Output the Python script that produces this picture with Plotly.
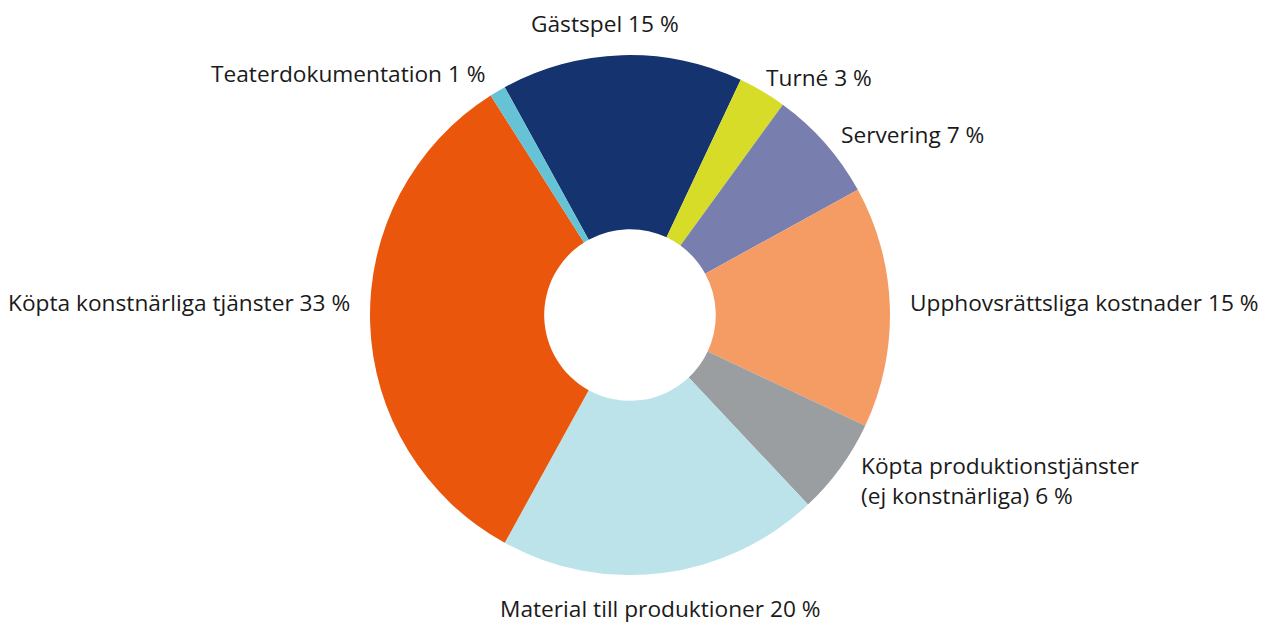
import math
import plotly.graph_objects as go

labels = ["Gästspel", "Turné", "Servering", "Upphovsrättsliga kostnader",
          "Köpta produktionstjänster<br>(ej konstnärliga)", "Material till produktioner",
          "Köpta konstnärliga tjänster", "Teaterdokumentation"]
values = [15, 3, 7, 15, 6, 20, 33, 1]
colors = ["#14336f", "#d6dc28", "#787fae", "#f59c65", "#9a9ea1", "#bce2ea", "#e9560c", "#66c3d6"]

texts = [f"{l} {v} %" for l, v in zip(labels, values)]

W, H = 1272, 623
M = dict(l=0, r=28, t=47, b=56)
PW = W - M["l"] - M["r"]
PH = H - M["t"] - M["b"]
R = min(PW, PH) / 2
ROT = -28.8
FS = 22.7

# small label nudges (pixels) to follow the reference's label layout
nudge = {0: (-16, -4), 1: (-8, -2), 2: (0, -3), 3: (0, 4), 4: (4, -2),
         5: (-4, 0), 6: (0, 21), 7: (0, 2)}

fig = go.Figure(go.Pie(
    labels=labels, values=values, textinfo="none",
    hole=0.33, sort=False, direction="clockwise",
    rotation=ROT, marker=dict(colors=colors, line=dict(width=0)),
    showlegend=False, hoverinfo="skip",
))

total = sum(values)
cum = 0
for i, (t, v) in enumerate(zip(texts, values)):
    mid = ROT + (cum + v / 2) / total * 360
    cum += v
    a = math.radians(mid)
    s, c = math.sin(a), math.cos(a)
    rr = R * 1.07
    x = 0.5 + rr * s / PW
    y = 0.5 + rr * c / PH
    if abs(s) < 0.2:
        xa = "center"
        ya = "bottom" if c > 0 else "top"
    else:
        xa = "left" if s > 0 else "right"
        ya = "middle"
    dx, dy = nudge.get(i, (0, 0))
    fig.add_annotation(x=x, y=y, xref="paper", yref="paper", text=t,
                       showarrow=False, xanchor=xa, yanchor=ya, align="left",
                       xshift=dx, yshift=dy,
                       font=dict(family="Open Sans", size=FS, color="#1a1a1a"))

fig.update_layout(
    width=W, height=H,
    margin=M,
    paper_bgcolor="white", plot_bgcolor="white",
    font=dict(family="Open Sans"),
)
fig.write_html("out.html")
